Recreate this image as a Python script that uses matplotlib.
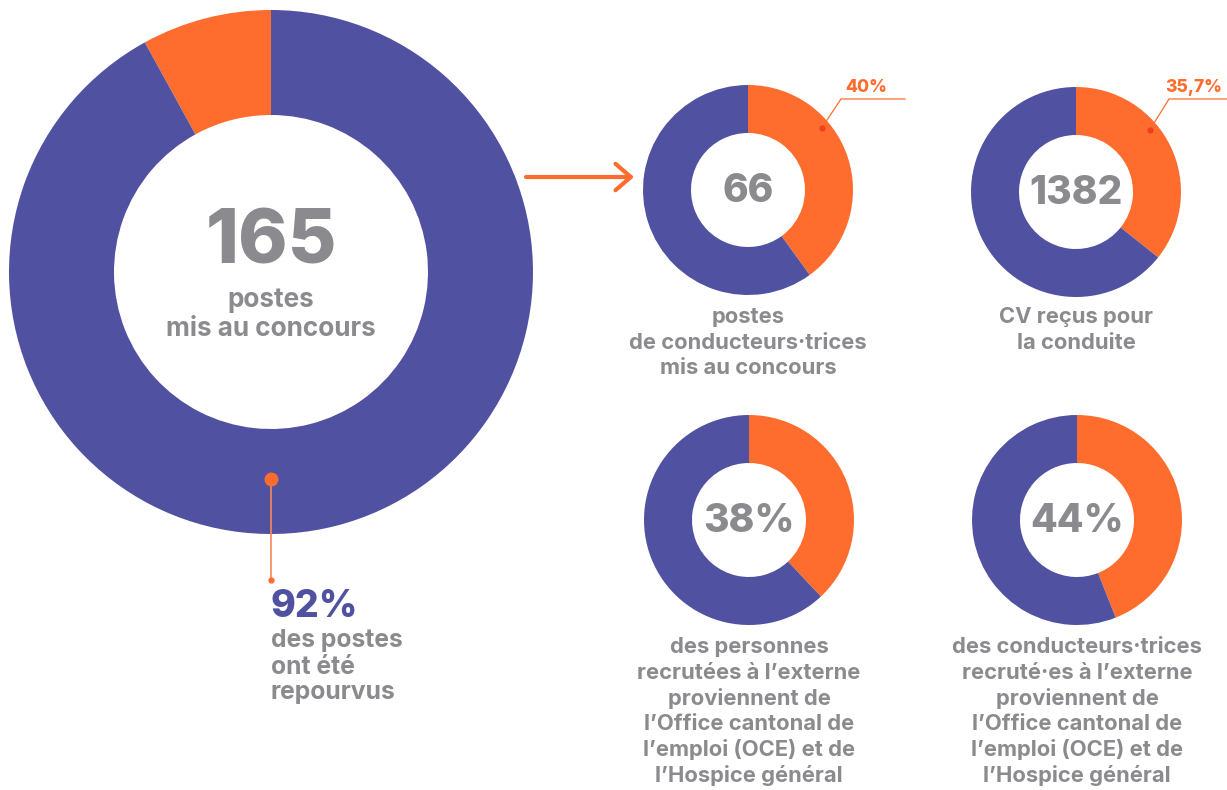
import numpy as np
import matplotlib
matplotlib.use("Agg")
import matplotlib.pyplot as plt

# --- données ---
big_filled = 92            # % des postes repourvus
big_total = "165"
big_caption = "postes\nmis au concours"
big_note = "des postes\nont été\nrepourvus"

small_pcts = [40, 35.7, 38, 44]
small_centers = ["66", "1382", "38%", "44%"]
small_tags = ["40%", "35,7%", None, None]
small_captions = [
    "postes\nde conducteurs·trices\nmis au concours",
    "CV reçus pour\nla conduite",
    "des personnes\nrecrutées à l’externe\nproviennent de\nl’Office cantonal de\nl’emploi (OCE) et de\nl’Hospice général",
    "des conducteurs·trices\nrecruté·es à l’externe\nproviennent de\nl’Office cantonal de\nl’emploi (OCE) et de\nl’Hospice général",
]

PURPLE = "#5051a1"
ORANGE = "#ff6d2e"
GREY = "#8a8a8f"
FONT = "Inter"

W, H = 1227, 790

fig = plt.figure(figsize=(W / 100, H / 100), dpi=100)
ax = fig.add_axes([0, 0, 1, 1])


def Y(y):
    return H - y


def lines(x, y0, text, pitch, size, ha="center", color=GREY):
    for i, ln in enumerate(text.split("\n")):
        ax.text(x, Y(y0 + i * pitch), ln, ha=ha, va="center", fontsize=size,
                color=color, family=FONT, fontweight="bold")


# grand anneau
bc = (271, 272)
ax.pie([100 - big_filled, big_filled], colors=[ORANGE, PURPLE], startangle=90,
       counterclock=True, center=(bc[0], Y(bc[1])), radius=262,
       wedgeprops=dict(width=262 - 157, linewidth=0))
ax.text(bc[0], Y(244), big_total, ha="center", va="center", fontsize=54,
        color=GREY, family=FONT, fontweight="heavy")
lines(bc[0], 300, big_caption, 29, 18.8)

# repère 92%
ax.plot([271, 271], [Y(479), Y(580)], color="#f58a5c", lw=1.2, zorder=3)
ax.plot([271], [Y(479)], "o", color=ORANGE, ms=9, zorder=4)
ax.plot([271], [Y(580)], "o", color=ORANGE, ms=3.5, zorder=4)
ax.text(270, Y(607), f"{big_filled}%", ha="left", va="center", fontsize=27,
        color=PURPLE, family=FONT, fontweight="heavy")
lines(271, 641, big_note, 26, 17.8, ha="left")

# flèche
ax.annotate("", xy=(634, Y(177)), xytext=(526, Y(177)),
            arrowprops=dict(arrowstyle="->,head_length=1.1,head_width=0.95",
                            color=ORANGE, lw=3, shrinkA=0, shrinkB=0))

# petits anneaux
centers = [(748, 190), (1076, 192), (749, 520), (1077, 520)]
caption_y = [317, 317, 647, 647]
tag_end = [905, 1227]
tag_x = [866, 1194]
for i, pct in enumerate(small_pcts):
    cx, cy = centers[i]
    ax.pie([pct, 100 - pct], colors=[ORANGE, PURPLE], startangle=90,
           counterclock=False, center=(cx, Y(cy)), radius=105,
           wedgeprops=dict(width=105 - 57, linewidth=0))
    ax.text(cx, Y(cy + 1), small_centers[i], ha="center", va="center",
            fontsize=28, color=GREY, family=FONT, fontweight="heavy")
    lines(cx, caption_y[i], small_captions[i], 25.6, 15.8)
    if small_tags[i]:
        a = np.radians(90 - 50)
        dx, dy = cx + 96 * np.cos(a), Y(cy) + 96 * np.sin(a)
        ex, ey = cx + 93, Y(99)
        ax.plot([dx, ex, tag_end[i]], [dy, ey, ey],
                color=ORANGE, lw=0.9, zorder=3)
        ax.plot([dx], [dy], "o", color="#f0401a", ms=3.5, zorder=4)
        ax.text(tag_x[i], Y(87), small_tags[i], ha="center", va="center",
                fontsize=12.5, color=ORANGE, family=FONT, fontweight="heavy")

ax.set_xlim(0, W)
ax.set_ylim(0, H)
ax.set_aspect("auto")
ax.axis("off")

fig.savefig("out.png", dpi=100, facecolor="white")
